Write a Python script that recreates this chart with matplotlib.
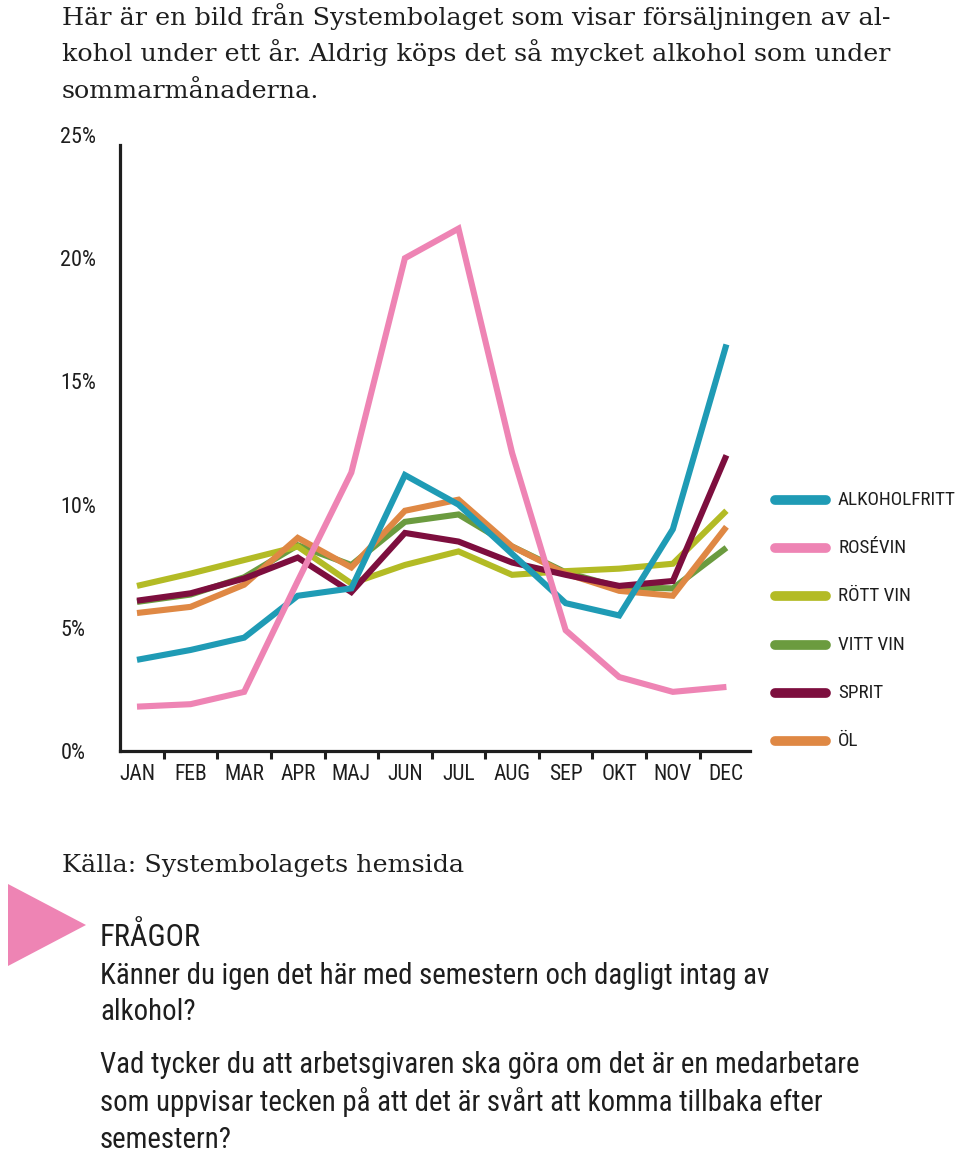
import matplotlib
matplotlib.use("Agg")
import matplotlib.pyplot as plt
import matplotlib.font_manager as fm
from matplotlib.lines import Line2D
from matplotlib.patches import Polygon

months = ["JAN", "FEB", "MAR", "APR", "MAJ", "JUN", "JUL", "AUG", "SEP", "OKT", "NOV", "DEC"]

# andel av årets försäljning per månad (%)
alkoholfritt = [3.7, 4.1, 4.6, 6.3, 6.6, 11.2, 10.0, 8.0, 6.0, 5.5, 9.0, 16.5]
rosevin = [1.8, 1.9, 2.4, 6.9, 11.3, 20.0, 21.2, 12.1, 4.9, 3.0, 2.4, 2.6]
rott_vin = [6.7, 7.2, 7.75, 8.3, 6.8, 7.55, 8.1, 7.15, 7.3, 7.4, 7.6, 9.75]
vitt_vin = [6.05, 6.35, 7.05, 8.35, 7.55, 9.3, 9.6, 8.3, 7.25, 6.65, 6.6, 8.25]
sprit = [6.1, 6.4, 7.0, 7.85, 6.45, 8.85, 8.5, 7.65, 7.15, 6.7, 6.9, 12.0]
ol = [5.6, 5.85, 6.75, 8.65, 7.45, 9.75, 10.2, 8.3, 7.2, 6.5, 6.3, 9.1]

labels = ["ALKOHOLFRITT", "ROSÉVIN", "RÖTT VIN", "VITT VIN", "SPRIT", "ÖL"]
series = [alkoholfritt, rosevin, rott_vin, vitt_vin, sprit, ol]
colors = ["#1f9bb5", "#ee84b4", "#b3bb25", "#6b9b3f", "#7d0e3e", "#df8844"]
zorders = [6, 7, 4, 3, 5, 4.5]

yticks = [0, 5, 10, 15, 20, 25]

avail = {f.name for f in fm.fontManager.ttflist}
COND = next((n for n in ["Liberation Sans Narrow", "Roboto Condensed", "Open Sans Condensed"] if n in avail),
            "DejaVu Sans")
SERIF = "DejaVu Serif"
cond = dict(family=COND, stretch="condensed")
TXT = "#1e1e1e"

W, H = 960, 1156
fig = plt.figure(figsize=(W / 100, H / 100), dpi=100)


def fx(px):
    return px / W


def fy(py):
    return 1 - py / H


ax = fig.add_axes([fx(120), fy(751), fx(750) - fx(120), fy(135) - fy(751)])

x = list(range(len(months)))
for vals, col, z in zip(series, colors, zorders):
    ax.plot(x, vals, color=col, lw=4.4, solid_joinstyle="miter", solid_capstyle="butt", zorder=z)

ax.set_xlim(-0.317, 11.44)
ax.set_ylim(0, 25)
for s in ["top", "right"]:
    ax.spines[s].set_visible(False)
ax.spines["left"].set_linewidth(2.3)
ax.spines["bottom"].set_linewidth(2.3)
ax.spines["left"].set_color(TXT)
ax.spines["bottom"].set_color(TXT)
ax.spines["left"].set_bounds(0, 24.6)

ax.set_xticks(x)
ax.set_xticklabels(months, fontsize=15.5, color=TXT, **cond)
ax.set_xticks([i + 0.5 for i in x[:-1]], minor=True)
ax.tick_params(axis="x", which="major", length=0, pad=9)
ax.tick_params(axis="x", which="minor", length=6, width=2.2, direction="out", color=TXT)

ax.set_yticks(yticks)
ax.set_yticklabels([f"{v}%" for v in yticks], fontsize=16, color=TXT, ha="left", **cond)
ax.tick_params(axis="y", length=0, pad=43)

# legend
for i, (lab, col) in enumerate(zip(labels, colors)):
    yy = fy(500 + i * 48.2)
    fig.add_artist(Line2D([fx(775), fx(826)], [yy, yy], color=col, lw=7, solid_capstyle="round"))
    fig.text(fx(838), yy, lab, fontsize=13.8, va="center", ha="left", color=TXT, **cond)

# header text
header = ["Här är en bild från Systembolaget som visar försäljningen av al-",
          "kohol under ett år. Aldrig köps det så mycket alkohol som under",
          "sommarmånaderna."]
for i, line in enumerate(header):
    fig.text(fx(62), fy(25 + i * 36.5), line, fontsize=18.3, family=SERIF, color=TXT, va="baseline")

fig.text(fx(62), fy(872), "Källa: Systembolagets hemsida", fontsize=18.3, family=SERIF, color=TXT,
         va="baseline")

fig.add_artist(Polygon([[fx(8), fy(884)], [fx(86), fy(925)], [fx(8), fy(966)]], closed=True,
                       facecolor="#ee84b4", edgecolor="none", transform=fig.transFigure))

fig.text(fx(100), fy(946), "FRÅGOR", fontsize=22, va="baseline", color=TXT, **cond)
questions = ["Känner du igen det här med semestern och dagligt intag av",
             "alkohol?",
             "Vad tycker du att arbetsgivaren ska göra om det är en medarbetare",
             "som uppvisar tecken på att det är svårt att komma tillbaka efter",
             "semestern?"]
baselines = [984, 1020, 1073, 1111, 1148]
for line, b in zip(questions, baselines):
    fig.text(fx(100), fy(b), line, fontsize=20.8, va="baseline", color=TXT, **cond)

fig.savefig("out.png", dpi=100)
